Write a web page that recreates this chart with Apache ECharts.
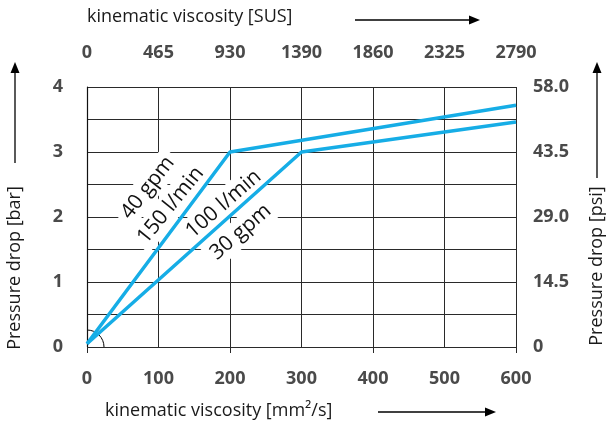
<!DOCTYPE html>
<html>
<head>
<meta charset="utf-8">
<script src="https://cdn.jsdelivr.net/npm/echarts@6/dist/echarts.min.js"></script>
<style>
  html, body { margin: 0; padding: 0; background: #fff; }
  #chart { width: 606px; height: 427px; }
</style>
</head>
<body>
<div id="chart"></div>
<script>
const chart = echarts.init(document.querySelector('#chart'));

// viscosity [mm²/s] vs pressure drop [bar]
const flow40gpm = [[0, 0.05], [200, 3.0], [600, 3.72]];
const flow30gpm = [[0, 0.05], [300, 3.0], [600, 3.46]];
const susLabels = ['0', '465', '930', '1390', '1860', '2325', '2790'];
const psiLabels = ['0', '14.5', '29.0', '43.5', '58.0'];
// curve labels: text, anchor [mm²/s, bar], rotation (deg)
const curveLabels = [
  ['40 gpm', [85, 2.45], 52],
  ['150 l/min', [117, 2.18], 51],
  ['100 l/min', [191, 2.2], 41],
  ['30 gpm', [215, 1.77], 41]
];

const font = '"Open Sans", sans-serif';
const lineColor = '#16ade6';
const gridColor = '#2a2a2a';
const tickText = { color: '#4a4a4a', fontWeight: 'bold', fontSize: 18, fontFamily: font };

chart.setOption({
  animation: false,
  grid: { left: 87, right: 90, top: 87, bottom: 80 },
  xAxis: [
    {
      type: 'value', min: 0, max: 600, interval: 100, position: 'bottom',
      axisLine: { show: false }, axisTick: { show: false },
      axisLabel: { ...tickText, margin: 23 },
      splitLine: { show: true, lineStyle: { color: ['transparent', gridColor, gridColor, gridColor, gridColor, gridColor, gridColor], width: 1 } }
    },
    {
      type: 'value', min: 0, max: 600, interval: 100, position: 'top',
      axisLine: { show: false }, axisTick: { show: false },
      axisLabel: { ...tickText, margin: 25, formatter: (v) => susLabels[Math.round(v / 100)] },
      splitLine: { show: false }
    },
    {
      type: 'value', min: 0, max: 600, interval: 200, position: 'bottom',
      axisLine: { show: false },
      axisTick: { show: true, length: 6, lineStyle: { color: gridColor } },
      axisLabel: { show: false }, splitLine: { show: false }
    }
  ],
  yAxis: [
    {
      type: 'value', min: 0, max: 4, interval: 0.5, position: 'left',
      axisLine: { show: false }, axisTick: { show: false },
      axisLabel: { ...tickText, margin: 24, formatter: (v) => (Number.isInteger(v) ? String(v) : '') },
      splitLine: { show: true, lineStyle: { color: gridColor, width: 1 } }
    },
    {
      type: 'value', min: 0, max: 58, interval: 14.5, position: 'right',
      axisLine: { show: true, lineStyle: { color: '#111', width: 1.2 } }, axisTick: { show: false },
      axisLabel: { ...tickText, margin: 17, formatter: (v, i) => psiLabels[i] },
      splitLine: { show: false }
    }
  ],
  series: [
    {
      type: 'line', data: flow40gpm, symbol: 'none', clip: false, zlevel: 2,
      lineStyle: { color: lineColor, width: 3.5 }
    },
    {
      type: 'line', data: flow30gpm, symbol: 'none', clip: false, zlevel: 2,
      lineStyle: { color: lineColor, width: 3.5 }
    }
  ]
});

function arrow(x1, y1, x2, y2) {
  const ang = Math.atan2(y2 - y1, x2 - x1);
  const L = 11, W = 4.5;
  const bx = x2 - L * Math.cos(ang), by = y2 - L * Math.sin(ang);
  const px = -Math.sin(ang) * W, py = Math.cos(ang) * W;
  return [
    { type: 'line', shape: { x1, y1, x2: bx, y2: by }, style: { stroke: '#000', lineWidth: 1.3 } },
    { type: 'polygon', shape: { points: [[x2, y2], [bx + px, by + py], [bx - px, by - py]] }, style: { fill: '#000' } }
  ];
}

const origin = chart.convertToPixel({ xAxisIndex: 0, yAxisIndex: 0 }, [0, 0]);
const titleStyle = { fill: '#1a1a1a', fontSize: 18, fontFamily: font };

const elements = [
  { type: 'arc', shape: { cx: origin[0], cy: origin[1], r: 17, startAngle: -Math.PI / 2, endAngle: 0 },
    style: { stroke: '#000', fill: null, lineWidth: 1 } },
  { type: 'text', x: 87, y: 17, style: { ...titleStyle, text: 'kinematic viscosity [SUS]', verticalAlign: 'middle' } },
  ...arrow(355, 20, 480, 20),
  { type: 'text', x: 105, y: 411, style: { ...titleStyle, text: 'kinematic viscosity [mm²/s]', verticalAlign: 'middle' } },
  ...arrow(378, 412, 496, 412),
  { type: 'text', x: 15, y: 268, rotation: Math.PI / 2, style: { ...titleStyle, text: 'Pressure drop [bar]', align: 'center', verticalAlign: 'middle' } },
  ...arrow(15, 163, 15, 62),
  { type: 'text', x: 597, y: 266, rotation: Math.PI / 2, style: { ...titleStyle, text: 'Pressure drop [psi]', align: 'center', verticalAlign: 'middle' } },
  ...arrow(597, 178, 597, 62)
];

curveLabels.forEach(([text, pos, rot]) => {
  const p = chart.convertToPixel({ xAxisIndex: 0, yAxisIndex: 0 }, pos);
  elements.push({
    type: 'text', x: p[0], y: p[1], rotation: rot * Math.PI / 180, zlevel: 1,
    style: { text, fill: '#111', fontSize: 21, fontFamily: font, align: 'center', verticalAlign: 'middle',
      backgroundColor: '#fff', padding: [0, 2], textBorderColor: '#fff', textBorderWidth: 3 }
  });
});

chart.setOption({ graphic: { elements } });
</script>
</body>
</html>
